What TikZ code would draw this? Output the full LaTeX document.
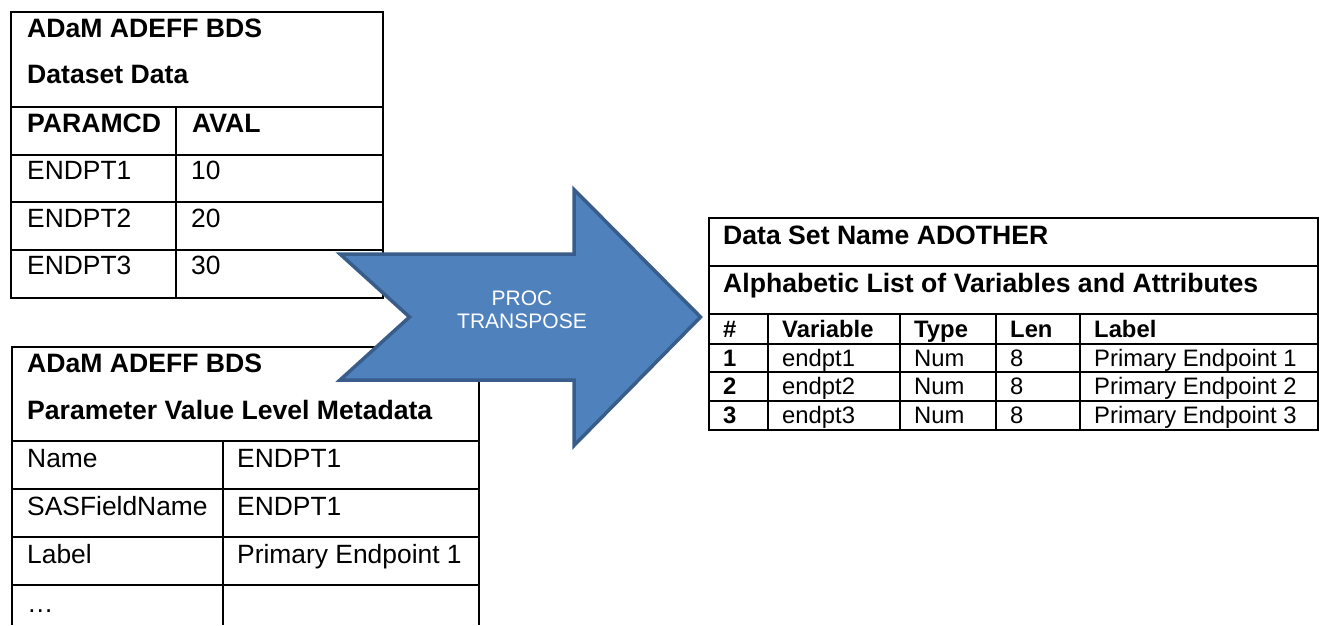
\documentclass[tikz,border=0pt]{standalone}
\usepackage{fontspec}
\setmainfont{Liberation Sans}
\definecolor{arrowfill}{HTML}{4F81BD}
\definecolor{arrowline}{HTML}{385D8A}
\begin{document}
\begin{tikzpicture}[x=1pt,y=-1pt,
  grid/.style={line width=2pt, draw=black},
  big/.style={font=\fontsize{26.4}{30}\selectfont, inner sep=0pt, anchor=base west},
  bigb/.style={font=\fontsize{26.6}{30}\selectfont\bfseries, inner sep=0pt, anchor=base west},
  sm/.style={font=\fontsize{23.8}{28}\selectfont, inner sep=0pt, anchor=base west},
  smb/.style={font=\fontsize{23.8}{28}\selectfont\bfseries, inner sep=0pt, anchor=base west},
  arrowtext/.style={font=\fontsize{21}{24}\selectfont, text=white, inner sep=0pt, anchor=base},
  bigarrow/.style={line width=3.5pt, draw=arrowline, fill=arrowfill, line join=miter}]
\useasboundingbox (0,0) rectangle (1322,625);

% ---------- Table 1: Dataset Data ----------
\draw[grid] (11,12) rectangle (383,298);
\foreach \yy in {107,155,202,250} \draw[grid] (11,\yy) -- (383,\yy);
\draw[grid] (176,107) -- (176,298);
\node[bigb] (t1h1) at (27,37) {ADaM ADEFF BDS};
\node[bigb] (t1h2) at (27,83) {Dataset Data};
\node[bigb] (t1c1) at (27,132) {PARAMCD};
\node[bigb] (t1c2) at (192,132) {AVAL};
\node[big] (t1r1a) at (27,179) {ENDPT1};
\node[big] (t1r1b) at (191,179) {10};
\node[big] (t1r2a) at (27,227) {ENDPT2};
\node[big] (t1r2b) at (191,227) {20};
\node[big] (t1r3a) at (27,274) {ENDPT3};
\node[big] (t1r3b) at (191,274) {30};

% ---------- Table 2: Parameter Value Level Metadata ----------
\draw[grid] (12,625) -- (12,347) -- (479,347) -- (479,625);
\foreach \yy in {441,489,537,585} \draw[grid] (12,\yy) -- (479,\yy);
\draw[grid] (223,441) -- (223,625);
\node[bigb] (t2h1) at (27,372) {ADaM ADEFF BDS};
\node[bigb] (t2h2) at (27,419) {Parameter Value Level Metadata};
\node[big] (t2r1a) at (27,467) {Name};
\node[big] (t2r1b) at (237,467) {ENDPT1};
\node[big] (t2r2a) at (27,515) {SASFieldName};
\node[big] (t2r2b) at (237,515) {ENDPT1};
\node[big] (t2r3a) at (27,563) {Label};
\node[big] (t2r3b) at (237,563) {Primary Endpoint 1};
\node[big] (t2r4a) at (27,612) {…};

% ---------- Table 3: ADOTHER ----------
\draw[grid] (709,218) rectangle (1318,430);
\foreach \yy in {266,314,344,372,401} \draw[grid] (709,\yy) -- (1318,\yy);
\foreach \xx in {768,900,996,1080} \draw[grid] (\xx,314) -- (\xx,430);
\node[bigb] (t3h1) at (723,244) {Data Set Name ADOTHER};
\node[bigb] (t3h2) at (723,292) {Alphabetic List of Variables and Attributes};
\node[smb] (t3c1) at (723,337) {\#};
\node[smb] (t3c2) at (782,337) {Variable};
\node[smb] (t3c3) at (914,337) {Type};
\node[smb] (t3c4) at (1010,337) {Len};
\node[smb] (t3c5) at (1094,337) {Label};
\foreach \n/\yy in {1/366,2/394,3/423}{
  \node[smb] (t3r\n a) at (723,\yy) {\n};
  \node[sm] (t3r\n b) at (782,\yy) {endpt\n};
  \node[sm] (t3r\n c) at (914,\yy) {Num};
  \node[sm] (t3r\n d) at (1010,\yy) {8};
  \node[sm] (t3r\n e) at (1094,\yy) {Primary Endpoint \n};
}

% ---------- Arrow ----------
\draw[bigarrow] (340,254) -- (574,254) -- (574,189.5) -- (700.5,317)
  -- (574,445.5) -- (574,380) -- (340,380) -- (409.5,317) -- cycle;
\node[arrowtext] (proc) at (522,305) {PROC};
\node[arrowtext] (transpose) at (522,328) {TRANSPOSE};
\end{tikzpicture}
\end{document}
